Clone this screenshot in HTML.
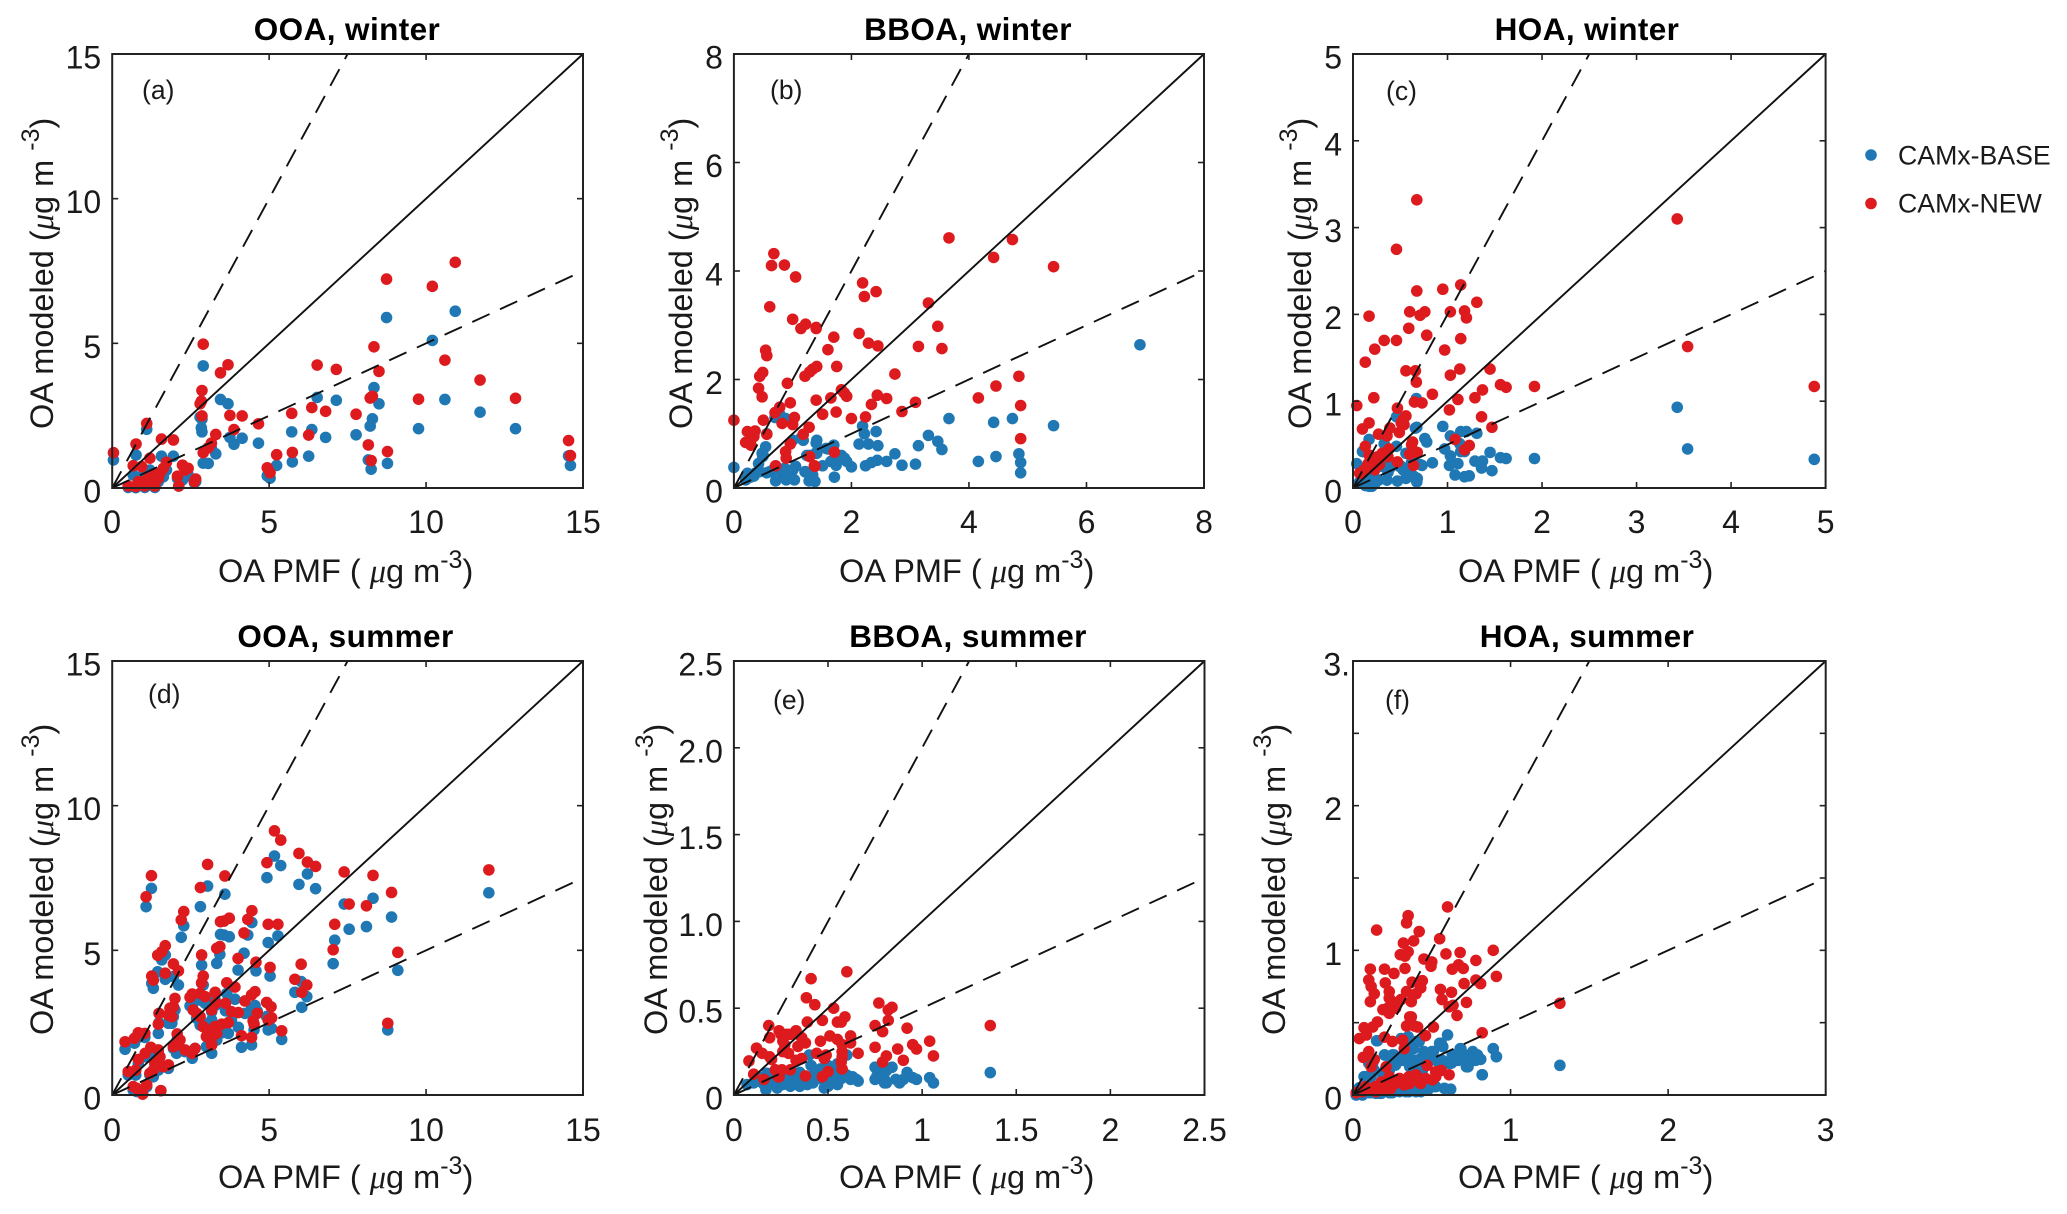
<!DOCTYPE html>
<html lang="en">
<head>
<meta charset="utf-8">
<title>OA modeled vs OA PMF scatter panels</title>
<style>
html,body{margin:0;padding:0;background:#fff;}
svg{display:block;}
text{font-family:"Liberation Sans",Arial,sans-serif;fill:#1a1a1a;}
.tick{font-size:32px;}
.axis-title{font-size:32.5px;}
.panel-title{font-size:31.5px;font-weight:bold;fill:#000;letter-spacing:0.4px;}
.panel-tag{font-size:26.5px;}
.legend-text{font-size:26.7px;}
.mu{font-family:"Liberation Serif",serif;font-style:italic;}
</style>
</head>
<body>
<svg id="chart" xmlns="http://www.w3.org/2000/svg" width="2067" height="1214" viewBox="0 0 2067 1214">
  <rect width="2067" height="1214" fill="#fff"/>
  <g>
    <circle cx="1871" cy="155" r="5.8" fill="#1f78b4"/>
    <text class="legend-text" x="1898" y="164.5">CAMx-BASE</text>
    <circle cx="1871" cy="203.5" r="5.8" fill="#dd1a1e"/>
    <text class="legend-text" x="1898" y="212.5">CAMx-NEW</text>
  </g>
</svg>
<script>
// Each row: [OA PMF, CAMx-BASE modeled, CAMx-NEW modeled]; null = no visible point.
const ooaWinter=[[14.6,.78,1.12],[14.54,1.11,1.64],[12.85,2.05,3.1],[11.72,2.62,3.73],[10.93,6.11,7.8],[10.6,3.06,4.42],[10.2,5.1,6.97],[9.76,2.05,3.07],[8.74,5.89,7.22],[8.77,.85,1.26],[8.5,2.91,4.03],[8.34,3.47,4.88],[8.29,2.39,3.17],[8.22,2.14,3.11],[8.25,.65,.95],[8.16,.97,1.49],[7.77,1.84,2.55],[7.14,3.03,4.1],[6.8,1.75,2.65],[6.53,3.13,4.25],[6.36,2.02,2.78],[6.26,1.1,1.83],[5.72,1.94,2.58],[5.74,.9,1.23],[5.24,.78,1.15],[5.03,.34,.53],[4.94,.42,.7],[4.66,1.55,2.22],[4.14,1.72,2.49],[3.88,1.51,2.02],[3.75,1.75,2.51],[3.69,2.91,4.26],[3.45,3.06,3.98],[3.3,1.18,1.85],[3.16,1.38,1.55],[3.06,.85,1.39],[2.9,.86,1.22],[2.9,4.22,4.97],[2.86,2.38,2.49],[2.84,2.08,3.0],[2.86,1.94,3.37],[2.8,2.45,2.91],[.76,1.14,1.52],[1.1,2.03,2.23],[1.57,1.1,1.69],[1.95,1.1,1.66],[.04,.97,1.22],[1.2,.62,1.03],[.67,.45,.77],[.94,.4,.74],[1.73,.62,.89],[1.63,.39,.68],[1.36,.28,.45],[1.15,.22,.33],[.83,.16,.22],[.51,.02,.07],[.75,.01,.05],[1.04,.02,.07],[1.36,.02,.07],[1.47,.22,.33],[.99,.1,.22],[1.2,.1,.22],[1.31,.18,.39],[1.52,.33,.51],[2.24,.28,.79],[2.42,.45,.68],[2.32,.39,.62],[2.08,.33,.41],[2.12,.07,.07],[2.66,.22,.31],[2.62,.18,.22]];
const bboaWinter=[[5.44,1.15,4.08],[6.91,2.64,null],[4.88,.28,.91],[4.88,.47,1.52],[4.85,.63,2.06],[4.74,1.28,4.58],[4.46,.58,1.88],[4.42,1.21,4.25],[4.16,.49,1.66],[3.66,1.28,4.61],[3.54,.71,2.57],[3.47,.86,2.98],[3.31,.97,3.41],[3.14,.78,2.61],[3.09,.44,1.58],[2.86,.42,1.41],[2.74,.63,2.1],[2.6,.49,1.65],[2.45,.78,2.62],[2.44,.51,1.71],[2.42,1.04,3.62],[2.34,.47,1.54],[2.29,.81,2.67],[2.24,.41,1.31],[2.22,1.0,3.53],[2.19,1.14,3.78],[2.13,.81,2.85],[2.0,.39,1.28],[1.92,.49,1.69],[1.88,.55,1.75],[1.83,.6,1.81],[1.75,.6,2.24],[1.74,.42,1.4],[1.71,.2,.66],[1.7,.79,2.78],[1.65,.49,1.66],[1.6,.72,2.55],[1.51,.41,1.36],[1.41,.88,2.24],[1.4,.65,1.62],[1.4,.83,2.96],[1.38,.12,.4],[.61,.3,3.34],[1.0,.88,3.11],[1.14,.92,2.94],[1.22,.3,3.02],[1.4,.64,2.94],[.54,.76,2.54],[.56,.28,2.44],[.49,.58,2.13],[.44,.3,2.06],[.42,.45,1.84],[.48,.64,1.68],[.91,.33,1.93],[1.34,.24,2.19],[1.29,.6,2.14],[1.21,.3,2.06],[.96,.27,1.57],[.78,1.36,1.49],[.7,1.3,1.39],[.5,.6,1.25],[0,.38,1.25],[.82,.27,1.19],[1.03,.15,1.3],[1.0,.33,1.17],[.23,.27,1.04],[.36,.27,1.05],[.34,.22,.95],[.56,1.0,.99],[.28,.2,.88],[.2,.15,.84],[.29,.23,.79],[1.28,.13,1.12],[1.18,.88,.99],[.96,.3,.81],[.88,1.28,.67],[.89,.15,.55],[1.29,.24,.58],[1.37,.13,.41],[.71,.13,.41],[1.57,.73,null],[1.41,.64,null],[1.24,.6,null],[.68,.35,4.32],[.64,.3,4.1],[.86,.36,4.11],[1.05,.4,3.89]];
const hoaWinter=[[4.88,.33,1.17],[3.54,.45,1.63],[3.43,.93,3.1],[1.92,.34,1.17],[1.62,.34,1.16],[1.56,.35,1.19],[1.47,.2,.7],[1.45,.41,1.37],[1.37,.31,1.13],[1.36,.23,.82],[1.31,.63,2.14],[1.29,.31,1.04],[1.23,.14,.49],[1.2,.65,1.96],[1.18,.13,2.04],[1.18,.42,.44],[1.14,.65,2.34],[1.14,.42,1.72],[1.13,.51,1.37],[1.11,.28,1.02],[1.08,.15,.56],[1.03,.6,2.03],[1.03,.37,1.3],[1.02,.26,.9],[.97,.45,1.59],[.95,.71,2.29],[.84,.29,1.08],[.78,.53,1.76],[.76,.57,2.03],[.73,.26,.98],[.17,.56,1.98],[.6,.19,2.03],[.71,.27,1.99],[.59,.22,1.84],[.33,.51,1.7],[.46,.48,1.7],[.23,.05,1.6],[.13,.03,1.45],[.56,.4,1.35],[.66,.69,1.35],[.67,1.03,1.22],[.22,.1,1.04],[.04,.28,.95],[.65,.13,.99],[.47,.82,.92],[.56,.11,.83],[.53,.21,.79],[.51,.25,.75],[.54,.2,.73],[.49,.25,.64],[.17,.02,.75],[.1,.42,.68],[.39,.23,.69],[.36,.09,.6],[.27,.09,.62],[.63,.13,.53],[.62,.3,.5],[.13,.03,.48],[.38,.3,.45],[.68,.11,.41],[.6,.4,.39],[.17,.28,.38],[.26,.09,.36],[.31,.25,.4],[.37,.18,.36],[.23,.05,.3],[.16,.12,.28],[.14,.2,.23],[.07,.07,.17],[.23,.12,.21],[.47,.08,.3],[.64,.26,.26],[.28,.3,.27],[.11,.42,.2],[.2,.02,.25],[.675,.7,3.32],[.46,.82,2.75],[.675,.07,2.27]];
const ooaSummer=[[1.25,7.14,7.58],[1.08,6.51,6.85],[3.04,7.22,7.97],[2.81,6.51,7.17],[3.59,6.94,7.57],[4.93,7.51,8.03],[5.17,8.26,9.13],[5.37,7.93,8.81],[5.95,7.28,8.35],[6.22,7.64,8.05],[6.48,7.13,7.9],[7.39,6.6,7.71],[7.55,5.73,6.6],[8.1,5.82,6.54],[8.31,6.8,7.59],[8.9,6.15,7.0],[9.1,4.31,4.93],[8.78,2.25,2.48],[12.0,6.99,7.78],[7.09,5.35,5.9],[7.04,4.54,5.02],[6.02,3.92,4.52],[6.2,3.4,3.8],[6.04,3.03,3.55],[5.82,3.55,4.0],[5.03,4.11,4.41],[4.58,4.29,4.59],[4.97,5.27,5.9],[5.28,5.5,5.9],[4.2,4.9,5.6],[4.32,5.53,6.07],[4.45,5.96,6.37],[3.73,5.47,6.11],[3.56,5.53,6.01],[3.45,5.55,5.99],[3.43,4.86,5.13],[3.33,4.55,5.07],[2.85,4.49,4.84],[4.01,4.32,4.72],[2.28,5.85,6.34],[2.2,5.45,6.05],[1.69,4.84,5.16],[1.58,4.67,4.95],[1.45,4.26,4.83],[2.11,3.8,4.29],[1.95,4.09,4.53],[1.69,4.0,4.21],[1.31,3.69,3.97],[1.26,3.86,4.11],[2.9,3.8,4.11],[2.85,3.86,3.88],[3.65,3.51,3.88],[3.91,3.31,3.73],[3.28,3.28,3.55],[4.55,3.09,3.57],[4.44,3.0,3.46],[4.23,2.82,3.25],[4.92,2.71,3.2],[5.06,2.65,3.05],[4.62,2.9,2.82],[4.49,2.82,2.56],[4.52,2.25,2.45],[4.97,2.25,2.59],[5.08,2.3,2.67],[5.4,1.92,2.22],[4.44,1.73,1.99],[4.12,1.65,2.05],[4.02,2.34,2.85],[3.8,2.59,2.88],[3.61,2.91,3.17],[3.3,3.11,3.17],[3.17,2.88,2.94],[2.96,3.17,3.4],[2.8,3.28,3.51],[2.55,3.11,3.49],[2.48,3.08,3.38],[2.58,2.94,2.94],[2.69,2.65,2.82],[2.8,2.42,2.71],[2.9,2.48,2.36],[3.17,2.59,2.25],[3.27,2.13,2.36],[3.49,2.15,2.45],[3.7,2.13,2.5],[3.0,1.67,2.02],[3.17,1.44,1.73],[3.15,1.79,1.9],[3.33,1.9,2.13],[2.64,1.61,1.61],[2.55,1.27,1.44],[2.32,1.5,1.56],[2.05,1.44,1.73],[2.16,1.61,1.9],[1.95,1.61,1.67],[2.07,1.9,2.11],[2.0,2.94,3.34],[1.95,2.71,3.05],[1.84,2.76,3.0],[1.9,2.48,2.71],[1.79,2.48,2.76],[1.47,2.13,2.45],[1.49,2.5,2.82],[1.04,1.99,2.13],[.83,1.99,2.15],[.71,1.79,1.96],[.41,1.58,1.84],[1.23,1.44,1.65],[1.05,1.32,1.44],[1.47,1.44,1.56],[.83,1.07,1.23],[1.52,1.32,1.32],[1.36,1.09,1.09],[1.63,.98,.98],[1.31,.63,.86],[1.47,.86,1.21],[1.79,.92,1.04],[.51,.69,.81],[.75,.69,.86],[1.2,.69,.75],[.67,.17,.29],[.78,.12,.23],[.97,.06,.03],[1.1,.29,.35],[1.55,.15,.15]];
const bboaSummer=[[1.362,.129,.4],[.6,null,.71],[.41,null,.67],[.385,null,.56],[.43,null,.52],[.53,null,.5],[.77,null,.53],[.82,null,.49],[.84,null,.505],[.82,null,.43],[.59,null,.45],[.57,null,.42],[.55,null,.42],[.47,null,.43],[.39,null,.42],[.75,null,.4],[.79,null,.365],[.92,null,.385],[.185,null,.4],[.24,null,.37],[.25,null,.35],[.19,null,.33],[.33,null,.37],[.3,null,.35],[.28,null,.35],[.36,null,.33],[.38,null,.3],[.34,null,.28],[.26,null,.31],[.27,null,.29],[.29,null,.24],[.26,null,.25],[.46,null,.31],[.51,null,.34],[.55,null,.32],[.575,null,.29],[.62,null,.34],[.62,null,.3],[.66,null,.24],[.575,null,.25],[.575,null,.22],[.57,null,.19],[.575,null,.15],[.49,null,.23],[.44,null,.24],[.48,null,.21],[.36,null,.21],[.33,null,.2],[.12,null,.27],[.15,null,.24],[.19,null,.22],[.2,null,.205],[.08,null,.196],[.75,null,.275],[.87,null,.265],[.95,null,.29],[.97,null,.265],[1.04,null,.31],[1.06,null,.225],[.9,null,.2],[.81,null,.225],[.79,null,.19],[.105,null,.12],[.22,null,.145],[.255,null,.145],[.3,null,.145],[.24,null,.105],[.235,null,.105],[.16,null,.09],[.38,null,.11],[.5,null,.135],[.47,null,.105],[1.04,.1,null],[1.06,.07,null],[.9,.09,null],[.86,.09,null],[.88,.07,null],[.92,.13,null],[.95,.1,null],[.97,.09,null],[.75,.16,null],[.79,.17,null],[.84,.16,null],[.81,.14,null],[.75,.09,null],[.8,.07,null],[.81,.07,null],[.78,.115,null],[.65,.09,null],[.63,.105,null],[.6,.115,null],[.57,.095,null],[.6,.23,null],[.53,.16,null],[.55,.125,null],[.51,.08,null],[.48,.04,null],[.49,.08,null],[.45,.115,null],[.43,.135,null],[.41,.17,null],[.4,.23,null],[.39,.06,null],[.36,.09,null],[.33,.105,null],[.29,.115,null],[.26,.06,null],[.23,.04,null],[.17,.03,null],[.105,.07,null],[.07,.06,null],[.175,.125,null],[.14,.1,null],[.22,.1,null],[.3,.05,null],[.335,.06,null],[.42,.07,null],[.2,.07,null],[.25,.09,null],[.28,.07,null],[.32,.08,null],[.35,.05,null],[.38,.09,null],[.43,.09,null],[.47,.09,null],[.5,.05,null],[.53,.09,null],[.55,.06,null],[.27,.12,null],[.2,.1,null],[.13,.08,null],[.16,.06,null],[.24,.13,null],[.18,.12,null],[.35,.13,null],[.46,.15,null],[.5,.17,null],[.55,.18,null],[.57,.15,null],[.62,.09,null],[.66,.08,null],[.78,.1,null],[.77,.13,null],[.79,.14,null],[.76,.11,null],[.8,.09,null]];
const hoaSummer=[[1.313,.205,.634],[.6,.415,1.3],[.35,.403,1.24],[.34,.39,1.19],[.15,.375,1.14],[.42,.37,1.13],[.385,.32,1.065],[.32,.24,1.05],[.55,.357,1.08],[.35,.3,.99],[.3,.24,.97],[.33,.277,.96],[.45,.3,.94],[.5,.3,.92],[.495,.253,.89],[.59,.22,.975],[.68,.32,.985],[.89,.32,1.0],[.78,.277,.93],[.67,.24,.9],[.7,.283,.875],[.63,.277,.87],[.11,.22,.87],[.2,.277,.87],[.26,.277,.84],[.33,.24,.875],[.1,.22,.795],[.205,.17,.775],[.115,.127,.75],[.135,.17,.7],[.11,.127,.645],[.375,.195,.78],[.44,.17,.79],[.43,.253,.74],[.34,.24,.715],[.4,.37,.7],[.37,.32,.645],[.23,.207,.715],[.23,.17,.67],[.25,.207,.645],[.22,.195,.6],[.19,.127,.59],[.27,.207,.6],[.23,.17,.565],[.28,.24,.63],[.305,.39,.66],[.555,.207,.73],[.565,.24,.66],[.625,.22,.71],[.61,.22,.61],[.635,.277,.62],[.66,.24,.55],[.72,.195,.64],[.705,.24,.77],[.78,.24,.795],[.81,.247,.77],[.91,.265,.82],[.36,.195,.54],[.37,.24,.54],[.34,.24,.477],[.39,.24,.477],[.41,.37,.47],[.51,.3,.47],[.46,.07,.41],[.82,.14,.43],[.155,.375,.505],[.125,.22,.47],[.07,.127,.465],[.04,.05,.39],[.085,.127,.415],[.2,.277,.4],[.25,.277,.37],[.315,.24,.38],[.325,.24,.32],[.1,.115,.3],[.065,.05,.26],[.135,.17,.245],[.115,.22,.195],[.21,.17,.195],[.47,.035,.205],[.61,.22,.14],[.56,.357,.17],[.525,.058,.127],[.46,.07,.115],[.4,.023,.14],[.355,.023,.127],[.295,.023,.115],[.23,.016,.127],[.18,.012,.09],[.145,.016,.06],[.115,.016,.035],[.06,0,.023],[.02,0,.016],[.19,.058,.035],[.24,.016,.046],[.27,.035,.08],[.325,.058,.07],[.39,.058,.105],[.43,.023,.08],[.505,.058,.105],[.525,.24,.16],[.145,.012,.023],[.08,.016,.058],[.21,.058,.07],[.36,.058,.08],[.62,.04,null],[.58,.046,null],[.475,.035,null],[.335,.023,null],[.25,.016,null],[.167,.012,null],[.104,.016,null],[.76,.3,null],[.79,.277,null],[.81,.247,null],[.77,.24,null],[.685,.32,null],[.695,.283,null],[.715,.24,null],[.73,.195,null],[.665,.24,null],[.63,.277,null],[.57,.334,null],[.55,.357,null],[.91,.265,null],[.89,.32,null],[.82,.14,null]];

const ticksOoa=[0,5,10,15];
const labelsOoa=['0','5','10','15'];
const ticksBboaWinter=[0,2,4,6,8];
const labelsBboaWinter=['0','2','4','6','8'];
const ticksHoaWinter=[0,1,2,3,4,5];
const labelsHoaWinter=['0','1','2','3','4','5'];
const ticksBboaSummer=[0,.5,1,1.5,2,2.5];
const xLabelsBboaSummer=['0','0.5','1','1.5','2','2.5'];
const yLabelsBboaSummer=['0','0.5','1.0','1.5','2.0','2.5'];
const xTicksHoaSummer=[0,1,2,3];
const xLabelsHoaSummer=['0','1','2','3'];
const yTicksHoaSummer=[0,.5,1,1.5,2,2.5,3];
const yLabelsHoaSummer=['0','','1','','2','','3.'];
const refSlopes=[1,2,.5];

const NS='http://www.w3.org/2000/svg';
const svg=document.getElementById('chart');
function mk(tag,attrs,parent){
  const e=document.createElementNS(NS,tag);
  for(const k in attrs){e.setAttribute(k,attrs[k]);}
  parent.appendChild(e);
  return e;
}
function addSpan(parent,str,attrs){
  const s=mk('tspan',attrs||{},parent);
  s.textContent=str;
  return s;
}
const panelDefs=[
 {id:'ooa-winter',title:'OOA, winter',tag:'(a)',pts:ooaWinter,max:15,xt:ticksOoa,xl:labelsOoa,yt:ticksOoa,yl:labelsOoa,box:[112.2,583,54,488],tc:347,tb:40,tagXY:[142,99],xlab:[218,582],ylab:[52,429],xb:533,end:.985},
 {id:'bboa-winter',title:'BBOA, winter',tag:'(b)',pts:bboaWinter,max:8,xt:ticksBboaWinter,xl:labelsBboaWinter,yt:ticksBboaWinter,yl:labelsBboaWinter,box:[733.9,1204,54,488],tc:968,tb:40,tagXY:[770,99],xlab:[839,582],ylab:[691,429],xb:533,end:.985},
 {id:'hoa-winter',title:'HOA, winter',tag:'(c)',pts:hoaWinter,max:5,xt:ticksHoaWinter,xl:labelsHoaWinter,yt:ticksHoaWinter,yl:labelsHoaWinter,box:[1353,1825.6,54,488],tc:1587,tb:40,tagXY:[1386,100],xlab:[1458,582],ylab:[1310,429],xb:533,end:1},
 {id:'ooa-summer',title:'OOA, summer',tag:'(d)',pts:ooaSummer,max:15,xt:ticksOoa,xl:labelsOoa,yt:ticksOoa,yl:labelsOoa,box:[112.2,583,661,1095],tc:345.5,tb:647,tagXY:[148,703],xlab:[218,1188],ylab:[52,1035],xb:1141,end:.985},
 {id:'bboa-summer',title:'BBOA, summer',tag:'(e)',pts:bboaSummer,max:2.5,xt:ticksBboaSummer,xl:xLabelsBboaSummer,yt:ticksBboaSummer,yl:yLabelsBboaSummer,box:[733.9,1204.5,661,1095],tc:968,tb:647,tagXY:[773,709],xlab:[839,1188],ylab:[666,1035],xb:1141,end:.985},
 {id:'hoa-summer',title:'HOA, summer',tag:'(f)',pts:hoaSummer,max:3,xt:xTicksHoaSummer,xl:xLabelsHoaSummer,yt:yTicksHoaSummer,yl:yLabelsHoaSummer,box:[1353,1825.7,661,1095],tc:1587,tb:647,tagXY:[1385,709],xlab:[1458,1188],ylab:[1284,1035],xb:1141,end:.985}
];
panelDefs.forEach(function(p){
  const L=p.box[0],R=p.box[1],T=p.box[2],B=p.box[3];
  const sx=function(v){return L+v/p.max*(R-L);};
  const sy=function(v){return B-v/p.max*(B-T);};
  const g=mk('g',{},svg);
  
  

  const title=mk('text',{x:p.tc,y:p.tb,'text-anchor':'middle','class':'panel-title'},g);
  title.textContent=p.title;
  
  

  p.pts.forEach(function(r){
    if(r[1]===null)return;
    const c=mk('circle',{cx:sx(r[0]),cy:sy(r[1]),r:5.8,fill:'#1f78b4'},g);
    
    
  });
  p.pts.forEach(function(r){
    if(r[2]===null)return;
    const c=mk('circle',{cx:sx(r[0]),cy:sy(r[2]),r:5.8,fill:'#dd1a1e'},g);
    
    
  });

  refSlopes.forEach(function(m){
    const xe=m>1?p.max/m:(m<1?p.max*p.end:p.max);
    const l=mk('line',{x1:sx(0),y1:sy(0),x2:sx(xe),y2:sy(xe*m),stroke:'#111','stroke-width':1.9,'stroke-dasharray':m===1?'none':'19 11.5'},g);
    
    
  });

  const box=mk('rect',{x:L,y:T,width:R-L,height:B-T,fill:'none',stroke:'#222','stroke-width':2},g);
  
  

  p.xt.forEach(function(v,i){
    const x=sx(v);
    if(i>0&&i<p.xt.length-1){
      const a=mk('line',{x1:x,y1:B,x2:x,y2:B-6,stroke:'#222','stroke-width':1.6},g);
      
      
      const b=mk('line',{x1:x,y1:T,x2:x,y2:T+6,stroke:'#222','stroke-width':1.6},g);
      
      
    }
    const t=mk('text',{x:x,y:p.xb,'text-anchor':'middle','class':'tick'},g);
    t.textContent=p.xl[i];
    
    
  });
  p.yt.forEach(function(v,i){
    const y=sy(v);
    if(i>0&&i<p.yt.length-1){
      const a=mk('line',{x1:L,y1:y,x2:L+6,y2:y,stroke:'#222','stroke-width':1.6},g);
      
      
      const b=mk('line',{x1:R,y1:y,x2:R-6,y2:y,stroke:'#222','stroke-width':1.6},g);
      
      
    }
    if(p.yl[i]==='')return;
    const shift=p.yl[i].slice(-1)==='.'?8:0;
    const t=mk('text',{x:L-11+shift,y:y+14.5,'text-anchor':'end','class':'tick'},g);
    t.textContent=p.yl[i];
    
    
  });

  const tag=mk('text',{x:p.tagXY[0],y:p.tagXY[1],'class':'panel-tag'},g);
  tag.textContent=p.tag;
  
  

  const xt=mk('text',{x:p.xlab[0],y:p.xlab[1],'class':'axis-title'},g);
  
  
  addSpan(xt,'OA PMF ( ');
  addSpan(xt,'\u03BC',{'class':'mu'});
  addSpan(xt,'g m');
  addSpan(xt,'-3',{dy:-14,'font-size':'25'});
  addSpan(xt,')',{dy:14});

  const yt=mk('text',{transform:'translate('+(p.ylab[0]+1)+','+p.ylab[1]+') rotate(-90)','class':'axis-title'},g);
  
  
  addSpan(yt,'OA modeled (');
  addSpan(yt,'\u03BC',{'class':'mu'});
  addSpan(yt,'g m ');
  addSpan(yt,'-3',{dy:-14,'font-size':'25'});
  addSpan(yt,')',{dy:14});
});
</script>
</body>
</html>
